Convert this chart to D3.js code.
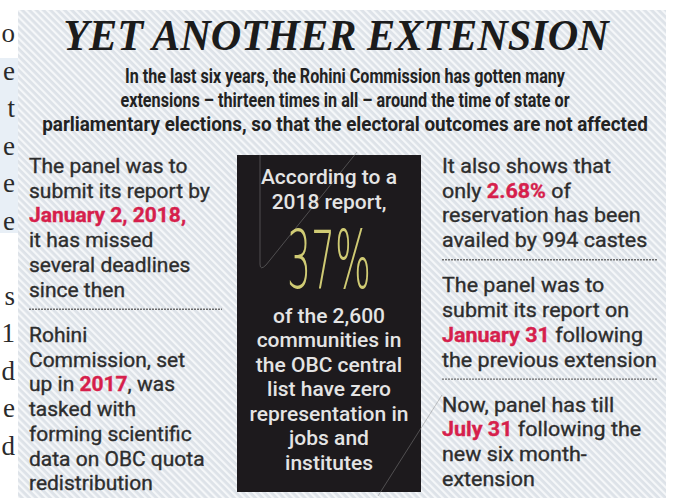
<!DOCTYPE html>
<html>
<head>
<meta charset="utf-8">
<script src="https://cdn.jsdelivr.net/npm/d3@7"></script>
<style>
  body { margin: 0; background: #fff; }
  svg text { font-family: Roboto, "Noto Sans", sans-serif; }
</style>
</head>
<body>
<div class="chart"></div>
<script>
var svgWidth = 674;
var svgHeight = 498;

// text content, *...* marks the red highlighted part
var titleText = "YET ANOTHER EXTENSION";
var subtitleLines = [
  "In the last six years, the Rohini Commission has gotten many",
  "extensions \u2013 thirteen times in all \u2013 around the time of state or",
  "parliamentary elections, so that the electoral outcomes are not affected"
];
var leftBlocks = [
  ["The panel was to", "submit its report by", "*January 2, 2018,*", "it has missed", "several deadlines", "since then"],
  ["Rohini", "Commission, set", "up in *2017*, was", "tasked with", "forming scientific", "data on OBC quota", "redistribution"]
];
var midTop = ["According to a", "2018 report,"];
var midStat = "37%";
var midBottom = ["of the 2,600", "communities in", "the OBC central", "list have zero", "representation in", "jobs and", "institutes"];
var rightBlocks = [
  ["It also shows that", "only *2.68%* of", "reservation has been", "availed by 994 castes"],
  ["The panel was to", "submit its report on", "*January 31* following", "the previous extension"],
  ["Now, panel has till", "*July 31* following the", "new six month-", "extension"]
];
// line endings of the neighbouring column, cut off at the left edge
var edgeLetters = ["o", "e", "t", "e", "e", "e", "", "s", "1", "d", "e", "d"];

// layout widths of the subtitle lines as printed
var subtitleWidths = [441, 450, 606];

var svg = d3.select(".chart")
  .append("svg")
  .attr("width", svgWidth)
  .attr("height", svgHeight);

// hatched background
var defs = svg.append("defs");
var pat = defs.append("pattern")
  .attr("id", "hatch")
  .attr("width", 5)
  .attr("height", 5)
  .attr("patternUnits", "userSpaceOnUse")
  .attr("patternTransform", "rotate(-45)");
pat.append("rect").attr("width", 5).attr("height", 5).attr("fill", "#dde2e8");
pat.append("rect").attr("width", 2.2).attr("height", 5).attr("fill", "#f5f7f9");

svg.append("rect")
  .attr("x", 0).attr("y", 58).attr("width", 22).attr("height", 175)
  .attr("fill", "#e8eff6");

svg.append("rect")
  .attr("x", 18).attr("y", 10)
  .attr("width", 648).attr("height", 488)
  .attr("fill", "url(#hatch)");

// edge letters
var edgeY = d3.scaleLinear().domain([0, 1]).range([42, 79.5]);
svg.append("g").selectAll("text")
  .data(edgeLetters)
  .enter()
  .append("text")
  .attr("x", 15)
  .attr("y", (d, i) => edgeY(i))
  .attr("text-anchor", "end")
  .style("font-family", "'Liberation Serif', serif")
  .style("font-size", "27px")
  .attr("fill", "#2a2a2a")
  .text(d => d);

// squeeze a group horizontally so its widest line fits a width
function fitGroup(g, x, width) {
  var w = d3.max(g.selectAll("text").nodes(), n => n.getBBox().width);
  g.attr("transform", `translate(${x},0) scale(${width / w},1)`);
}

function richLine(sel, str, red) {
  str.split("*").forEach(function(part, i) {
    if (!part) return;
    var t = sel.append("tspan").text(part);
    if (i % 2 === 1) t.attr("fill", red).attr("stroke", red).style("font-weight", "bold");
  });
}

// title
var titleG = svg.append("g");
titleG.append("text")
  .attr("y", 50)
  .attr("text-anchor", "middle")
  .style("font-family", "'Liberation Serif', serif")
  .style("font-style", "italic")
  .style("font-weight", "bold")
  .style("font-size", "44px")
  .attr("fill", "#1b1b1b")
  .text(titleText);
fitGroup(titleG, 336, 548);

// subtitle, each line fitted on its own
var subY = d3.scaleLinear().domain([0, 1]).range([83, 107]);
subtitleLines.forEach(function(line, i) {
  var g = svg.append("g");
  g.append("text")
    .attr("y", subY(i))
    .attr("text-anchor", "middle")
    .style("font-size", "20px")
    .style("font-weight", "bold")
    .attr("fill", "#222")
    .text(line);
  fitGroup(g, 345, subtitleWidths[i]);
});

// body columns
var red = "#d61f4c";
var lineY = d3.scaleLinear().domain([0, 1]).range([173, 197.75]);
var blockGap = 1.82;

function drawColumn(blocks, x, width, sepWidth) {
  var g = svg.append("g");
  var slot = 0;
  var seps = [];
  blocks.forEach(function(lines, b) {
    if (b > 0) {
      seps.push(lineY(slot - 1) + 12.5);
      slot += blockGap - 1;
    }
    lines.forEach(function(line) {
      var t = g.append("text")
        .attr("y", lineY(slot))
        .style("font-size", "21px")
        .attr("fill", "#2d2d2d")
        .attr("stroke", "#2d2d2d")
        .attr("stroke-width", 0.35);
      richLine(t, line, red);
      slot += 1;
    });
  });
  fitGroup(g, x, width);
  svg.append("g").selectAll("line")
    .data(seps)
    .enter()
    .append("line")
    .attr("x1", x).attr("x2", x + sepWidth)
    .attr("y1", d => d).attr("y2", d => d)
    .attr("stroke", "#6c6c6c")
    .attr("stroke-width", 1.3)
    .attr("stroke-dasharray", "2,1");
}

drawColumn(leftBlocks, 29, 181, 193);
drawColumn(rightBlocks, 442, 215, 215);

// middle dark panel
var box = { x: 237, y: 155, w: 184, h: 337 };
svg.append("rect")
  .attr("x", box.x).attr("y", box.y)
  .attr("width", box.w).attr("height", box.h)
  .attr("fill", "#1d1a1d");

svg.append("path")
  .attr("d", `M260,${box.y} L260,264 Q260,271 266,265 L357,152`)
  .attr("fill", "none")
  .attr("stroke", "#8a8a8a")
  .attr("stroke-opacity", 0.6)
  .attr("stroke-width", 0.8);
svg.append("line")
  .attr("x1", 378).attr("y1", 496).attr("x2", 442).attr("y2", 395)
  .attr("stroke", "#8a8a8a")
  .attr("stroke-opacity", 0.6)
  .attr("stroke-width", 0.8);

var midX = box.x + box.w / 2;
var midTopY = d3.scaleLinear().domain([0, 1]).range([184, 209]);
var midBotY = d3.scaleLinear().domain([0, 1]).range([323, 347.5]);

var midG = svg.append("g");
midG.selectAll("text.top")
  .data(midTop)
  .enter()
  .append("text")
  .attr("class", "top")
  .attr("y", (d, i) => midTopY(i))
  .attr("text-anchor", "middle")
  .style("font-size", "21px")
  .style("font-weight", "500")
  .attr("fill", "#e4e4e4")
  .text(d => d);
midG.selectAll("text.bot")
  .data(midBottom)
  .enter()
  .append("text")
  .attr("class", "bot")
  .attr("y", (d, i) => midBotY(i))
  .attr("text-anchor", "middle")
  .style("font-size", "21px")
  .style("font-weight", "500")
  .attr("fill", "#e4e4e4")
  .text(d => d);
fitGroup(midG, midX, 159);

var statG = svg.append("g");
statG.append("text")
  .attr("y", 288)
  .attr("text-anchor", "middle")
  .style("font-family", "'DejaVu Sans', sans-serif")
  .style("font-weight", "200")
  .style("font-size", "80px")
  .attr("fill", "#d0cb74")
  .text(midStat);
fitGroup(statG, midX, 84);
</script>
</body>
</html>
